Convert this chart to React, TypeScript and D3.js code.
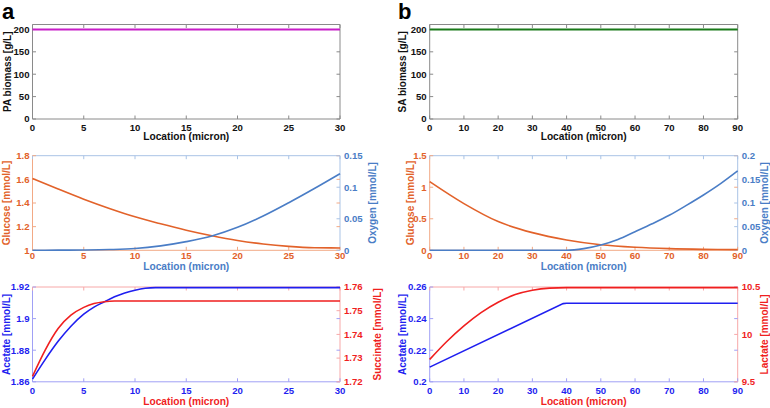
import React from "react";
import * as d3 from "d3";

// ---------- DATA ----------
const paX = [0, 30];
const paBiomass = [200, 200];
const saX = [0, 90];
const saBiomass = [200, 200];

const glucA_x = [0, 2.5, 5, 7.5, 10, 12.5, 15, 17.5, 20, 22.5, 25, 27.5, 30];
const glucA_y = [1.608, 1.518, 1.432, 1.354, 1.283, 1.224, 1.17, 1.123, 1.083, 1.053, 1.033, 1.022, 1.02];
const oxyA_y = [0, 0.0002, 0.0005, 0.0012, 0.0028, 0.007, 0.0137, 0.0227, 0.0364, 0.0544, 0.0755, 0.098, 0.1215];

const glucB_x = [0, 10, 20, 30, 40, 50, 60, 70, 80, 90];
const glucB_y = [1.088, 0.74, 0.455, 0.28, 0.164, 0.088, 0.048, 0.026, 0.015, 0.01];
const oxyB_x = [0, 40, 45, 50, 55, 60, 65, 70, 75, 80, 85, 90];
const oxyB_y = [0, 0, 0.0035, 0.0113, 0.023, 0.0394, 0.056, 0.074, 0.095, 0.117, 0.141, 0.168];

const acA_x = [0, 1.25, 2.5, 3.75, 5, 6, 7, 8, 9, 10, 11, 12, 30];
const acA_y = [1.8617, 1.8742, 1.8856, 1.8952, 1.9028, 1.9073, 1.9106, 1.9138, 1.9162, 1.918, 1.9192, 1.9196, 1.9196];
const sucA_x = [0, 1.25, 2.5, 3.75, 5, 6, 7, 8, 30];
const sucA_y = [1.7223, 1.7335, 1.7425, 1.7481, 1.7514, 1.753, 1.7538, 1.7541, 1.7541];

const acB_x = [0, 39, 40, 90];
const acB_y = [0.2093, 0.2495, 0.2497, 0.2497];
const lacB_x = [0, 5, 10, 15, 20, 25, 30, 35, 40, 90];
const lacB_y = [9.736, 9.925, 10.09, 10.23, 10.34, 10.42, 10.466, 10.488, 10.493, 10.493];

const xTicksA = [0, 5, 10, 15, 20, 25, 30];
const xTicksB = [0, 10, 20, 30, 40, 50, 60, 70, 80, 90];
const bioTicks = [0, 50, 100, 150, 200];
const glucATicks = [1, 1.2, 1.4, 1.6, 1.8];
const oxyATicks = [0, 0.05, 0.1, 0.15];
const glucBTicks = [0, 0.5, 1, 1.5];
const oxyBTicks = [0, 0.05, 0.1, 0.15, 0.2];
const acATicks = [1.86, 1.88, 1.9, 1.92];
const sucATicks = [1.72, 1.73, 1.74, 1.75, 1.76];
const acBTicks = [0.2, 0.22, 0.24, 0.26];
const lacBTicks = [9.5, 10, 10.5];

const FONT = "'Liberation Sans', Arial, Helvetica, sans-serif";
const fmt = (v: number) => String(+v.toFixed(4));

type Series = { xs: number[]; ys: number[]; color: string; side: "L" | "R"; width?: number; curve?: any };

type PanelProps = {
  x0: number; x1: number; y0: number; y1: number;
  xDomain: [number, number]; xTicks: number[];
  lDomain: [number, number]; lTicks: number[];
  rDomain?: [number, number]; rTicks?: number[];
  series: Series[];
  lLabel: string; rLabel?: string;
  lColor: string; rColor?: string;
  xTickColor: string; xLabelColor: string;
  axL: string; axR: string; axT: string; axB: string;
  lLabelX: number; rLabelX?: number;
  xTickY: number; xLabelY: number;
};

function Panel(p: PanelProps) {
  const xs = d3.scaleLinear().domain(p.xDomain).range([p.x0, p.x1]);
  const yl = d3.scaleLinear().domain(p.lDomain).range([p.y1, p.y0]);
  const yr = p.rDomain ? d3.scaleLinear().domain(p.rDomain).range([p.y1, p.y0]) : null;
  const tl = 3.5;
  const fs = 9.6;
  return (
    <g fontFamily={FONT} fontWeight="bold">
      <line x1={p.x0} x2={p.x1} y1={p.y0} y2={p.y0} stroke={p.axT} strokeWidth={1} />
      <line x1={p.x0} x2={p.x1} y1={p.y1} y2={p.y1} stroke={p.axB} strokeWidth={1} />
      <line x1={p.x0} x2={p.x0} y1={p.y0} y2={p.y1} stroke={p.axL} strokeWidth={1} />
      <line x1={p.x1} x2={p.x1} y1={p.y0} y2={p.y1} stroke={p.axR} strokeWidth={1} />
      {p.xTicks.map((t) => (
        <g key={"xt" + t}>
          <line x1={xs(t)} x2={xs(t)} y1={p.y1} y2={p.y1 - tl} stroke={p.axB} />
          <line x1={xs(t)} x2={xs(t)} y1={p.y0} y2={p.y0 + tl} stroke={p.axT} />
          <text x={xs(t)} y={p.xTickY} textAnchor="middle" fontSize={fs} fill={p.xTickColor}>{fmt(t)}</text>
        </g>
      ))}
      {p.lTicks.map((t) => (
        <g key={"lt" + t}>
          <line x1={p.x0} x2={p.x0 + tl} y1={yl(t)} y2={yl(t)} stroke={p.axL} />
          <line x1={p.x1} x2={p.x1 - tl} y1={yl(t)} y2={yl(t)} stroke={p.axL} />
          <text x={p.x0 - 3} y={yl(t)} dy="0.35em" textAnchor="end" fontSize={fs} fill={p.lColor}>{fmt(t)}</text>
        </g>
      ))}
      {yr && p.rTicks && p.rTicks.map((t) => (
        <g key={"rt" + t}>
          <line x1={p.x1} x2={p.x1 - tl} y1={yr(t)} y2={yr(t)} stroke={p.axR} />
          <text x={p.x1 + 4} y={yr(t)} dy="0.35em" textAnchor="start" fontSize={fs} fill={p.rColor}>{fmt(t)}</text>
        </g>
      ))}
      {p.series.map((s, i) => {
        const ys = s.side === "L" ? yl : (yr as any);
        const pts = s.xs.map((x, j) => [x, s.ys[j]] as [number, number]);
        const line = d3.line<[number, number]>().x((d) => xs(d[0])).y((d) => ys(d[1])).curve(s.curve || d3.curveMonotoneX);
        return <path key={i} d={line(pts) || ""} fill="none" stroke={s.color} strokeWidth={s.width || 1.6} />;
      })}
      <text transform={`translate(${p.lLabelX},${(p.y0 + p.y1) / 2}) rotate(-90)`} textAnchor="middle" dy="0.35em" fontSize={10} fill={p.lColor}>{p.lLabel}</text>
      {p.rLabel && (
        <text transform={`translate(${p.rLabelX},${(p.y0 + p.y1) / 2}) rotate(-90)`} textAnchor="middle" dy="0.35em" fontSize={10} fill={p.rColor}>{p.rLabel}</text>
      )}
      <text x={(p.x0 + p.x1) / 2} y={p.xLabelY} textAnchor="middle" fontSize={10.2} fill={p.xLabelColor}>Location (micron)</text>
    </g>
  );
}

const ORANGE = "#E2622A";
const LBLUE = "#4A7DC6";
const BLUE = "#1f1ff0";
const RED = "#f01f1f";

export default function App() {
  const colA = { x0: 32.5, x1: 340 };
  const colB = { x0: 429.7, x1: 737.7 };
  const row1 = { y0: 24.5, y1: 119, xTickY: 131, xLabelY: 140 };
  const row2 = { y0: 155.7, y1: 250.3, xTickY: 258.5, xLabelY: 270 };
  const row3 = { y0: 287, y1: 381.8, xTickY: 393.5, xLabelY: 404.5 };
  const gray = "#8a8a8a";
  const topCommon = { lTicks: bioTicks, lDomain: [0, 211] as [number, number], lColor: "#111", xTickColor: "#111", xLabelColor: "#111", axL: gray, axR: gray, axT: gray, axB: gray };
  const midCommon = { lColor: ORANGE, rColor: LBLUE, xTickColor: ORANGE, xLabelColor: LBLUE, axL: "#f2a985", axR: "#a9c3e6", axT: "#a9c3e6", axB: "#f2a985" };
  const botCommon = { lColor: BLUE, rColor: RED, xTickColor: BLUE, xLabelColor: RED, axL: "#a0a0f5", axR: "#f7a8a8", axT: "#f7a8a8", axB: "#a0a0f5" };
  return (
    <svg width={770} height={408} style={{ position: "absolute", left: 0, top: 0, background: "#fff" }}>
      <rect width={770} height={408} fill="#fff" />
      <text x={2} y={19} fontFamily={FONT} fontWeight="bold" fontSize={22} fill="#000">a</text>
      <text x={398} y={19} fontFamily={FONT} fontWeight="bold" fontSize={22} fill="#000">b</text>

      <Panel {...colA} {...row1} {...topCommon} xDomain={[0, 30]} xTicks={xTicksA}
        series={[{ xs: paX, ys: paBiomass, color: "#c81ec8", side: "L", width: 2, curve: d3.curveLinear }]}
        lLabel="PA biomass [g/L]" lLabelX={7.5} />
      <Panel {...colB} {...row1} {...topCommon} xDomain={[0, 90]} xTicks={xTicksB}
        series={[{ xs: saX, ys: saBiomass, color: "#1a7a1a", side: "L", width: 2, curve: d3.curveLinear }]}
        lLabel="SA biomass [g/L]" lLabelX={402} />

      <Panel {...colA} {...row2} {...midCommon} xDomain={[0, 30]} xTicks={xTicksA}
        lDomain={[1, 1.8]} lTicks={glucATicks} rDomain={[0, 0.15]} rTicks={oxyATicks}
        series={[
          { xs: glucA_x, ys: glucA_y, color: ORANGE, side: "L" },
          { xs: glucA_x, ys: oxyA_y, color: LBLUE, side: "R" },
        ]}
        lLabel="Glucose [mmol/L]" rLabel="Oxygen [mmol/L]" lLabelX={6.5} rLabelX={372} />
      <Panel {...colB} {...row2} {...midCommon} xDomain={[0, 90]} xTicks={xTicksB}
        lDomain={[0, 1.5]} lTicks={glucBTicks} rDomain={[0, 0.2]} rTicks={oxyBTicks}
        series={[
          { xs: glucB_x, ys: glucB_y, color: ORANGE, side: "L", curve: d3.curveCatmullRom },
          { xs: oxyB_x, ys: oxyB_y, color: LBLUE, side: "R" },
        ]}
        lLabel="Glucose [mmol/L]" rLabel="Oxygen [mmol/L]" lLabelX={410} rLabelX={764} />

      <Panel {...colA} {...row3} {...botCommon} xDomain={[0, 30]} xTicks={xTicksA}
        lDomain={[1.86, 1.92]} lTicks={acATicks} rDomain={[1.72, 1.76]} rTicks={sucATicks}
        series={[
          { xs: acA_x, ys: acA_y, color: BLUE, side: "L" },
          { xs: sucA_x, ys: sucA_y, color: RED, side: "R" },
        ]}
        lLabel="Acetate [mmol/L]" rLabel="Succinate [mmol/L]" lLabelX={6.5} rLabelX={377} />
      <Panel {...colB} {...row3} {...botCommon} xDomain={[0, 90]} xTicks={xTicksB}
        lDomain={[0.2, 0.26]} lTicks={acBTicks} rDomain={[9.5, 10.5]} rTicks={lacBTicks}
        series={[
          { xs: acB_x, ys: acB_y, color: BLUE, side: "L", curve: d3.curveLinear },
          { xs: lacB_x, ys: lacB_y, color: RED, side: "R" },
        ]}
        lLabel="Acetate [mmol/L]" rLabel="Lactate [mmol/L]" lLabelX={402} rLabelX={764} />
    </svg>
  );
}
